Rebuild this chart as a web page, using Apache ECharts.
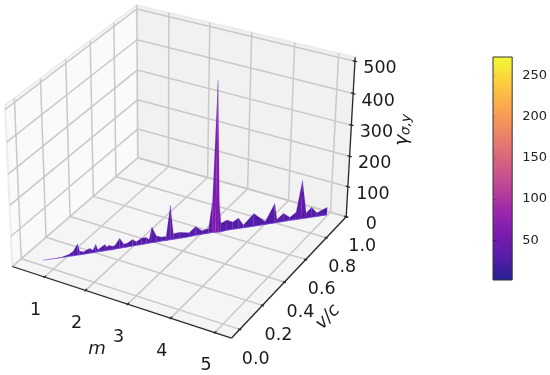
<!DOCTYPE html>
<html><head><meta charset="utf-8">
<style>html,body{margin:0;padding:0;background:#fff}#c{width:550px;height:375px}</style>
<script src="https://cdn.jsdelivr.net/npm/echarts@6/dist/echarts.min.js"></script>
</head><body><div id="c"></div>
<script>
// Ridge of the surface
const mValues = [0.63,0.91,1.03,1.09,1.16,1.19,1.25,1.34,1.39,1.43,1.46,1.49,1.57,1.6,1.63,1.68,1.72,1.79,1.85,1.9,1.98,2.04,2.12,2.19,2.23,2.27,2.34,2.41,2.49,2.55,2.6,2.69,2.84,2.93,3.03,3.13,3.18,3.24,3.3,3.33,3.41,3.5,3.59,3.67,3.83,4.01,4.15,4.19,4.29,4.39,4.49,4.57,4.65,4.73,4.82,4.98];
const vValues = [0.038,0.094,0.12,0.133,0.147,0.153,0.166,0.186,0.196,0.206,0.212,0.219,0.235,0.242,0.249,0.258,0.268,0.285,0.298,0.308,0.328,0.341,0.357,0.374,0.383,0.393,0.406,0.423,0.439,0.453,0.462,0.482,0.515,0.538,0.561,0.582,0.595,0.604,0.612,0.618,0.643,0.663,0.68,0.696,0.729,0.768,0.798,0.808,0.828,0.851,0.87,0.887,0.903,0.92,0.939,0.972];
const gammaValues = [0,1,7,14,38,12,8,16,8,26,8,11,21,11,16,11,12,33,12,13,21,12,22,20,12,52,21,14,13,114,19,20,13,30,11,16,105,488,100,29,34,24,35,9,43,10,65,10,28,10,25,128,17,34,12,26];
const mTicks = [1,2,3,4,5];
const vTicks = [0,0.2,0.4,0.6,0.8,1];
const vTickLabels = ['0.0','0.2','0.4','0.6','0.8','1.0'];
const zTicks = [0,100,200,300,400,500];
const colorbarTicks = [50,100,150,200,250];
const plasma = ['#0d0887','#41049d','#6a00a8','#8f0da4','#b12a90','#cc4778','#e16462','#f2844b','#fca636','#fcce25','#f0f921'];

const mRange = [0.2,5.37], vRange = [-0.07,1.0], zRange = [0,512];
const cbRange = [2,272];
// camera calibration: box corners (unit cube) -> picture position
const calib = [
 [0,0,0,12,266],[1,0,0,232,338],[1,1,0,346,217],[0,1,0,138,158],
 [0,0,1,5,106],[0,1,1,137,5],[1,1,1,355,57]];
function solveCamera(pts){
  const A=[],b=[];
  pts.forEach(([x,y,z,u,w])=>{
    A.push([x,y,z,1,0,0,0,0,-u*x,-u*y,-u*z]);b.push(u);
    A.push([0,0,0,0,x,y,z,1,-w*x,-w*y,-w*z]);b.push(w);
  });
  const n=11,M=[];
  for(let i=0;i<n;i++){const r=[];for(let j=0;j<n;j++){let s=0;A.forEach(a=>s+=a[i]*a[j]);r.push(s);}
    let s=0;A.forEach((a,k)=>s+=a[i]*b[k]);r.push(s);M.push(r);}
  for(let i=0;i<n;i++){let p=i;for(let k=i+1;k<n;k++)if(Math.abs(M[k][i])>Math.abs(M[p][i]))p=k;
    [M[i],M[p]]=[M[p],M[i]];
    for(let k=0;k<n;k++){if(k===i)continue;const f=M[k][i]/M[i][i];for(let j=i;j<=n;j++)M[k][j]-=f*M[i][j];}}
  return M.map((r,i)=>r[n]/r[i]);
}
const P=solveCamera(calib);
function proj(x,y,z){const d=P[8]*x+P[9]*y+P[10]*z+1;
  return [(P[0]*x+P[1]*y+P[2]*z+P[3])/d,(P[4]*x+P[5]*y+P[6]*z+P[7])/d];}
const nx=m=>(m-mRange[0])/(mRange[1]-mRange[0]);
const ny=v=>(v-vRange[0])/(vRange[1]-vRange[0]);
const nz=g=>(g-zRange[0])/(zRange[1]-zRange[0]);
const pt=(m,v,g)=>proj(nx(m),ny(v),nz(g));
function hex(c){return [1,3,5].map(i=>parseInt(c.substr(i,2),16));}
function plasmaAt(t){t=Math.max(0,Math.min(1,t))*10;const i=Math.min(9,Math.floor(t)),f=t-i;
  const a=hex(plasma[i]),b=hex(plasma[i+1]);return 'rgb('+a.map((q,k)=>Math.round(q+(b[k]-q)*f)).join(',')+')';}
const tone=g=>plasmaAt((28+Math.min(g,500)*0.12-cbRange[0])/(cbRange[1]-cbRange[0]));

const surfaceData=[];
for(let i=0;i<mValues.length-1;i++)
  surfaceData.push([mValues[i],vValues[i],gammaValues[i],mValues[i+1],vValues[i+1],gammaValues[i+1]]);

const FONT='"DejaVu Sans"';
const AX='#2a2a2a';
function boxRender(params,api){
  const c=p=>api.coord(p);
  const poly=(corners,fill)=>({type:'polygon',shape:{points:corners.map(q=>c(proj(q[0],q[1],q[2])))},
    style:{fill,stroke:'#ececec',lineWidth:2}});
  const seg=(a,b,stroke,lw)=>({type:'line',shape:{x1:c(a)[0],y1:c(a)[1],x2:c(b)[0],y2:c(b)[1]},style:{stroke,lineWidth:lw}});
  const kids=[
    poly([[0,0,0],[0,1,0],[0,1,1],[0,0,1]],'#fafafa'),
    poly([[0,1,0],[1,1,0],[1,1,1],[0,1,1]],'#f1f1f1'),
    poly([[0,0,0],[1,0,0],[1,1,0],[0,1,0]],'#f5f5f5')];
  const G='#c9c9c9',LW=1.5;
  mTicks.forEach(m=>{
    kids.push(seg(pt(m,vRange[0],0),pt(m,vRange[1],0),G,LW));
    kids.push(seg(pt(m,vRange[1],zRange[0]),pt(m,vRange[1],zRange[1]),G,LW));
  });
  vTicks.forEach(v=>{
    kids.push(seg(pt(mRange[0],v,0),pt(mRange[1],v,0),G,LW));
    kids.push(seg(pt(mRange[0],v,zRange[0]),pt(mRange[0],v,zRange[1]),G,LW));
  });
  zTicks.forEach(z=>{
    kids.push(seg(pt(mRange[0],vRange[0],z),pt(mRange[0],vRange[1],z),G,LW));
    kids.push(seg(pt(mRange[0],vRange[1],z),pt(mRange[1],vRange[1],z),G,LW));
  });
  return {type:'group',children:kids};
}
function axesRender(params,api){
  const c=p=>api.coord(p);
  const seg=(a,b)=>({type:'line',shape:{x1:c(a)[0],y1:c(a)[1],x2:c(b)[0],y2:c(b)[1]},style:{stroke:AX,lineWidth:1.3}});
  const label=(t,p,dx,dy,size)=>{const q=c(p);return {type:'text',x:q[0]+dx,y:q[1]+dy,
     style:{text:t,fill:'#1a1a1a',font:size+'px '+FONT,align:'center',verticalAlign:'middle'}};};
  const kids=[
    seg(pt(mRange[0],vRange[0],0),pt(mRange[1],vRange[0],0)),
    seg(pt(mRange[1],vRange[0],0),pt(mRange[1],vRange[1],0)),
    seg(pt(mRange[1],vRange[1],zRange[0]),pt(mRange[1],vRange[1],zRange[1]))];
  mTicks.forEach(m=>{
    kids.push(seg(pt(m,vRange[0]-0.008,0),pt(m,vRange[0]+0.012,0)));
    kids.push(label(String(m),pt(m,vRange[0],0),-9,33,17.5));
  });
  vTicks.forEach((v,i)=>{
    kids.push(seg(pt(mRange[1]-0.035,v,0),pt(mRange[1]+0.035,v,0)));
    kids.push(label(vTickLabels[i],pt(mRange[1],v,0),16,30,17.5));
  });
  zTicks.forEach(z=>{
    kids.push(seg(pt(mRange[1]-0.05,vRange[1],z),pt(mRange[1]+0.05,vRange[1],z)));
    kids.push(label(String(z),pt(mRange[1],vRange[1],z),25,7.5,17.5));
  });
  const title=(p,rot,style)=>{const q=c(p);return {type:'text',x:q[0],y:q[1],rotation:rot,style};};
  kids.push(title([97,349],0,{text:'m',fill:'#1a1a1a',font:'italic 18px '+FONT,align:'center',verticalAlign:'middle'}));
  kids.push(title([328,317],Math.PI*47/180,{text:'v/c',fill:'#1a1a1a',font:'italic 18px '+FONT,align:'center',verticalAlign:'middle'}));
  kids.push(title([403,130],Math.PI*87/180,{text:'{a|γ}{b|σ,y}',align:'center',verticalAlign:'middle',fill:'#1a1a1a',
    rich:{a:{font:'italic 19px '+FONT,fill:'#1a1a1a'},b:{font:'italic 13.5px '+FONT,fill:'#1a1a1a',verticalAlign:'bottom',padding:[6,0,0,0]}}}));
  return {type:'group',children:kids};
}
function surfaceRender(params,api){
  const a=[api.value(0),api.value(1),api.value(2)],b=[api.value(3),api.value(4),api.value(5)];
  const a0=api.coord(pt(a[0],a[1],0)),b0=api.coord(pt(b[0],b[1],0));
  const a1=api.coord(pt(a[0],a[1],a[2])),b1=api.coord(pt(b[0],b[1],b[2]));
  return {type:'group',children:[
    {type:'polygon',shape:{points:[a0,b0,b1,a1]},style:{fill:tone((a[2]+b[2])/2),opacity:0.9,stroke:'rgba(110,70,215,0.3)',lineWidth:0.5}},
    {type:'line',shape:{x1:a0[0],y1:a0[1],x2:b0[0],y2:b0[1]},style:{stroke:'#6b3fd6',lineWidth:1,opacity:a[0]<0.95?0.3:0.8}}
  ]};
}
function colorbarRender(params,api){
  const p0=api.coord([0,cbRange[0]]),p1=api.coord([1,cbRange[1]]);
  const stops=plasma.map((color,i)=>({offset:i/10,color}));
  return {type:'group',children:[
    {type:'rect',shape:{x:p0[0],y:p1[1],width:p1[0]-p0[0],height:p0[1]-p1[1]},
      style:{fill:new echarts.graphic.LinearGradient(0,1,0,0,stops),opacity:0.9}},
    {type:'rect',shape:{x:p0[0],y:p1[1],width:p1[0]-p0[0],height:p0[1]-p1[1]},
      style:{fill:'none',stroke:'#333',lineWidth:1}}]};
}
const hiddenX={type:'value',min:0,max:550,show:false};
const hiddenY={type:'value',min:0,max:375,inverse:true,show:false};
const chart=echarts.init(document.getElementById('c'),null,{renderer:'canvas',width:550,height:375});
chart.setOption({
  animation:false,backgroundColor:'#fff',
  grid:[{left:0,top:0,width:550,height:375},{left:493,top:57,width:21,height:223}],
  xAxis:[Object.assign({gridIndex:0},hiddenX),{gridIndex:1,type:'value',min:0,max:1,show:false}],
  yAxis:[Object.assign({gridIndex:0},hiddenY),{gridIndex:1,type:'value',position:'right',min:cbRange[0],max:cbRange[1],
    axisLine:{show:false},splitLine:{show:false},
    axisTick:{show:true,length:4,lineStyle:{color:'#333'},customValues:colorbarTicks},
    axisLabel:{show:true,color:'#222',fontFamily:'DejaVu Sans',fontSize:13,margin:10,customValues:colorbarTicks}}],
  series:[
    {type:'custom',xAxisIndex:0,yAxisIndex:0,clip:false,silent:true,z:1,data:[[0]],renderItem:boxRender},
    {type:'custom',xAxisIndex:0,yAxisIndex:0,clip:false,silent:true,z:2,data:[[0]],renderItem:axesRender},
    {type:'custom',xAxisIndex:0,yAxisIndex:0,clip:false,silent:true,z:3,data:surfaceData,
      dimensions:['m0','v0','g0','m1','v1','g1'],renderItem:surfaceRender},
    {type:'custom',xAxisIndex:1,yAxisIndex:1,clip:false,silent:true,z:3,data:[[0]],renderItem:colorbarRender}
  ]
});
</script></body></html>
